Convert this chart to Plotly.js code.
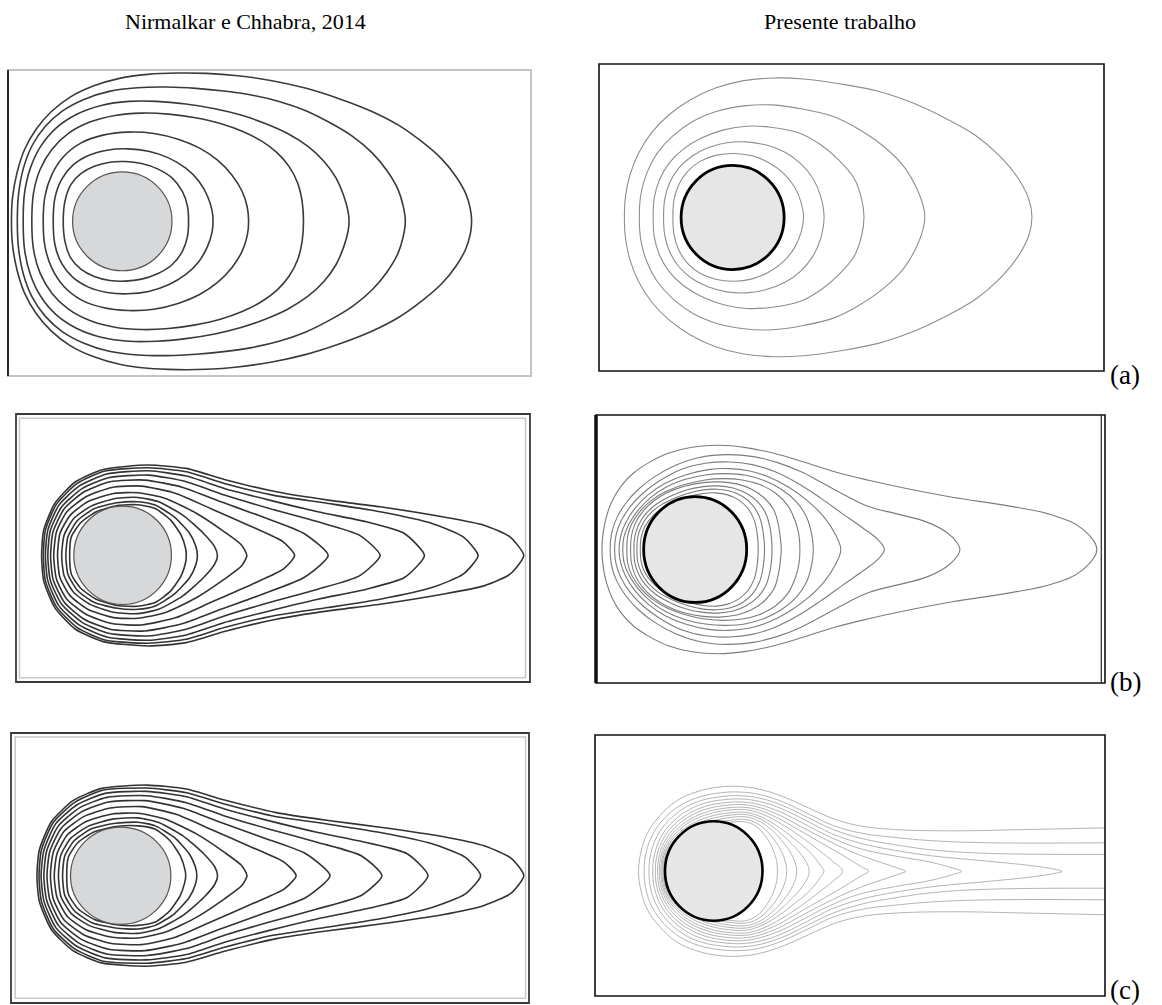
<!DOCTYPE html>
<html>
<head>
<meta charset="utf-8">
<script src="https://cdn.plot.ly/plotly-3.0.1.min.js"></script>
<style>
html,body{margin:0;padding:0;background:#ffffff;}
#chart{width:1162px;height:1005px;}
</style>
</head>
<body>
<div id="chart"></div>
<script>
// ---------------- DATA (figure units; y grows downward) ----------------
const columnTitles = ['Nirmalkar e Chhabra, 2014', 'Presente trabalho'];
const rowLabels = ['(a)', '(b)', '(c)'];

// frames: [left, right, top, bottom] of each panel box
const frameA1 = [25, 1540, 62, 978];
const frameA2 = [52, 1405, 42, 965];
const frameB1 = [48, 1533, 42, 845];
const frameB2 = [42, 1410, 45, 850];
const frameC1 = [33, 1530, 38, 852];
const frameC2 = [40, 1410, 45, 832];

// inner (double) frame lines
const innerB1 = [58, 1520, 55, 832];
const innerC1 = [45, 1520, 50, 838];
const innerRightB2 = 1400;

// cylinders: [left, right, top, bottom]
const cylA1 = [212, 500, 367, 663];
const cylA2 = [272, 548, 347, 660];
const cylB1 = [215, 497, 318, 613];
const cylB2 = [170, 447, 290, 608];
const cylC1 = [205, 495, 322, 615];
const cylC2 = [228, 490, 305, 605];

// symmetry lines (y of the wake centreline)
const axisA1 = 515, axisA2 = 503, axisB1 = 466, axisB2 = 449, axisC1 = 468, axisC2 = 456;

// isotherms, upper halves, from the upstream end to the downstream end
const isoA1 = [
  [[185,515],[190,455],[207,405],[236,372],[275,350],[320,338],[365,336],[412,342],[458,358],[500,385],[530,425],[545,470],[548,515]],
  [[156,515],[161,445],[180,390],[213,347],[258,318],[312,302],[372,298],[432,305],[490,325],[540,356],[578,395],[603,440],[616,482],[619,515]],
  [[127,515],[132,440],[152,375],[187,320],[237,280],[300,257],[372,248],[448,252],[520,270],[580,296],[632,332],[674,377],[703,425],[718,472],[722,515]],
  [[94,515],[99,430],[118,360],[152,300],[200,252],[262,218],[335,198],[412,191],[490,194],[568,205],[640,222],[705,246],[760,275],[805,310],[840,352],[864,400],[877,455],[881,515]],
  [[69,515],[73,430],[90,355],[120,290],[165,235],[223,195],[295,168],[375,156],[456,156],[540,164],[624,178],[700,197],[770,222],[835,252],[893,290],[940,335],[975,385],[998,440],[1010,485],[1013,515]],
  [[52,515],[56,430],[70,355],[95,288],[132,232],[182,185],[245,150],[318,126],[400,115],[485,113],[570,117],[650,125],[730,137],[810,156],[886,183],[958,220],[1025,262],[1080,310],[1124,365],[1155,420],[1170,470],[1176,515]],
  [[35,515],[38,445],[51,370],[73,300],[106,240],[150,187],[205,143],[272,110],[348,87],[430,75],[515,71],[600,72],[690,79],[790,94],[886,116],[982,147],[1079,186],[1156,227],[1223,276],[1281,328],[1322,380],[1350,430],[1364,476],[1368,515]]
];

const isoA2 = [
  [[250,503],[253,450],[266,404],[290,364],[324,334],[367,316],[414,311],[462,318],[506,338],[546,370],[576,412],[594,460],[600,503]],
  [[225,503],[228,450],[241,400],[265,356],[300,320],[344,294],[394,279],[446,276],[498,285],[548,306],[591,340],[624,384],[646,440],[655,503]],
  [[197,503],[200,445],[214,390],[240,340],[278,298],[328,264],[386,240],[448,229],[512,232],[590,250],[645,284],[694,330],[735,385],[755,445],[762,503]],
  [[160,503],[164,435],[180,370],[208,310],[250,258],[304,214],[368,184],[440,168],[516,165],[600,178],[680,200],[748,238],[815,290],[870,352],[905,420],[921,470],[925,503]],
  [[120,503],[123,440],[135,375],[158,310],[192,250],[238,196],[296,150],[364,114],[440,92],[520,84],[600,87],[700,102],[800,124],[890,158],[975,202],[1060,256],[1125,318],[1174,384],[1204,450],[1212,503]]
];

const isoB1 = [
  [[122,466],[128,390],[160,310],[220,245],[300,208],[430,195],[540,205],[650,238],[800,275],[950,300],[1100,320],[1280,350],[1400,375],[1475,410],[1515,466]],
  [[127,466],[133,390],[165,312],[225,250],[305,213],[430,203],[540,215],[650,250],[790,285],[950,310],[1100,335],[1250,370],[1340,410],[1383,466]],
  [[133,466],[140,390],[172,315],[230,258],[310,222],[430,212],[540,228],[650,265],[780,300],[920,335],[1060,365],[1170,400],[1228,466]],
  [[140,466],[147,392],[180,320],[240,265],[315,233],[430,225],[540,245],[650,285],[780,325],[920,365],[1040,405],[1100,466]],
  [[148,466],[155,395],[188,325],[245,275],[320,245],[420,240],[530,262],[640,305],[760,350],[880,400],[950,466]],
  [[157,466],[165,395],[195,335],[250,290],[325,262],[410,258],[510,280],[610,325],[730,380],[820,425],[853,466]],
  [[168,466],[175,400],[205,345],[255,305],[330,280],[400,278],[480,295],[570,340],[650,395],[700,435],[715,466]],
  [[180,466],[187,405],[215,355],[265,318],[335,295],[400,292],[460,305],[530,345],[590,400],[622,440],[630,466]],
  [[192,466],[198,410],[225,362],[275,325],[340,308],[400,305],[450,315],[505,350],[550,400],[568,440],[572,466]],
  [[203,466],[208,410],[235,368],[280,335],[340,316],[400,314],[450,325],[495,360],[525,405],[538,445],[540,466]]
];

const isoB2 = [
  [[58,449],[61,400],[70,350],[86,302],[110,258],[142,220],[184,188],[236,160],[300,142],[370,136],[445,143],[520,160],[600,186],[686,216],[775,241],[860,262],[1000,292],[1150,318],[1270,346],[1350,388],[1388,449]],
  [[80,449],[84,400],[98,354],[122,310],[156,268],[200,230],[256,196],[322,172],[395,164],[465,170],[530,188],[592,215],[652,250],[713,287],[775,320],[850,342],[930,366],[985,398],[1012,428],[1020,449]],
  [[92,449],[96,405],[110,362],[134,320],[168,280],[214,242],[272,208],[336,190],[400,186],[462,194],[522,215],[584,250],[645,294],[705,342],[760,385],[800,420],[817,449]],
  [[104,449],[108,410],[121,370],[146,326],[182,285],[228,250],[282,225],[344,209],[400,206],[455,213],[508,232],[560,262],[610,302],[655,352],[686,405],[700,449]],
  [[114,449],[117,412],[130,374],[154,333],[188,294],[230,262],[280,239],[336,225],[391,221],[445,226],[494,242],[540,268],[580,305],[608,352],[622,405],[626,449]],
  [[125,449],[127,410],[138,372],[160,335],[190,302],[230,275],[280,254],[335,240],[385,236],[435,240],[482,254],[525,280],[558,318],[578,365],[588,410],[590,449]],
  [[135,449],[137,410],[147,372],[167,336],[196,304],[234,278],[282,258],[330,248],[375,246],[420,252],[460,268],[495,295],[520,330],[533,380],[538,420],[540,449]],
  [[144,449],[146,412],[156,376],[175,343],[203,314],[240,290],[285,270],[330,260],[370,258],[410,264],[446,280],[476,305],[498,340],[510,385],[514,420],[515,449]],
  [[152,449],[154,413],[164,379],[182,348],[209,321],[245,299],[288,281],[330,270],[368,268],[404,274],[436,290],[462,315],[481,350],[491,395],[495,449]],
  [[161,449],[163,415],[172,383],[190,354],[215,329],[249,308],[290,291],[330,281],[364,279],[396,285],[425,300],[450,325],[467,360],[475,400],[478,449]]
];

const isoC1 = [
  [[108,468],[115,390],[150,305],[212,242],[295,205],[425,195],[540,207],[650,240],[800,278],[950,302],[1100,322],[1280,350],[1400,378],[1478,415],[1515,468]],
  [[114,468],[121,390],[155,308],[217,247],[300,210],[425,204],[540,218],[650,252],[790,288],[950,313],[1100,338],[1250,372],[1345,412],[1390,468]],
  [[120,468],[128,392],[162,312],[223,255],[305,220],[425,214],[540,230],[650,267],[780,303],[920,338],[1060,368],[1178,402],[1238,468]],
  [[128,468],[136,394],[170,318],[232,263],[310,232],[425,227],[540,248],[650,288],[780,328],[920,368],[1045,408],[1105,468]],
  [[137,468],[145,396],[178,325],[238,275],[315,246],[420,242],[530,265],[640,308],[760,353],[885,402],[955,468]],
  [[147,468],[155,398],[186,335],[243,290],[320,264],[410,260],[510,283],[610,328],[730,383],[823,428],[857,468]],
  [[158,468],[166,402],[196,345],[250,305],[325,282],[400,280],[480,298],[570,343],[650,398],[700,438],[715,468]],
  [[170,468],[177,406],[206,355],[258,318],[330,297],[400,294],[460,308],[530,348],[590,402],[622,442],[630,468]],
  [[182,468],[188,410],[216,362],[267,326],[335,310],[400,307],[450,318],[505,353],[548,402],[566,442],[570,468]],
  [[194,468],[199,412],[226,369],[274,336],[337,320],[400,318],[450,328],[492,362],[522,408],[535,447],[538,468]]
];

const isoC2 = [
  [[157,456],[163,400],[181,340],[213,290],[257,245],[311,217],[373,202],[427,200],[480,208],[543,230],[614,265],[686,300],[757,320],[847,330],[1000,334],[1200,330],[1410,325]],
  [[172,456],[177,400],[195,345],[225,298],[268,258],[320,232],[380,219],[430,217],[485,225],[545,247],[612,282],[680,318],[760,342],[847,354],[950,364],[1100,370],[1410,370]],
  [[185,456],[190,402],[207,350],[236,305],[277,267],[327,242],[385,230],[432,228],[485,236],[545,258],[610,293],[680,330],[760,358],[847,376],[950,392],[1100,402],[1410,405]],
  [[195,456],[200,404],[216,355],[244,312],[284,276],[333,251],[388,240],[434,238],[485,246],[543,268],[607,303],[675,342],[755,372],[847,393],[950,410],[1100,426],[1220,440],[1280,451],[1295,456]],
  [[202,456],[207,405],[223,359],[250,318],[289,284],[337,260],[390,249],[436,247],[484,256],[540,278],[602,313],[670,352],[750,387],[847,410],[940,428],[1000,446],[1025,456]],
  [[208,456],[213,406],[229,362],[255,324],[293,291],[340,268],[392,257],[438,255],[483,264],[536,287],[596,323],[663,362],[740,402],[810,430],[860,449],[875,456]],
  [[213,456],[218,407],[234,365],[260,329],[297,298],[343,276],[394,265],[440,263],[482,272],[532,296],[590,333],[655,375],[715,414],[755,442],[775,456]],
  [[217,456],[222,408],[238,368],[264,334],[300,304],[346,283],[396,272],[442,270],[481,280],[528,305],[582,343],[635,387],[680,427],[705,456]],
  [[220,456],[225,409],[241,371],[267,339],[303,311],[348,291],[398,280],[444,278],[480,289],[523,315],[572,355],[617,398],[645,437],[655,456]],
  [[223,456],[228,410],[244,373],[270,343],[306,317],[350,298],[400,287],[446,285],[480,296],[518,322],[560,364],[595,407],[613,441],[615,456]],
  [[225,456],[230,411],[246,375],[272,346],[308,322],[352,305],[402,294],[446,292],[478,303],[513,330],[548,372],[572,414],[582,456]],
  [[226,456],[231,412],[248,377],[274,349],[310,327],[354,311],[404,302],[446,300],[476,312],[506,340],[534,382],[550,422],[555,456]],
  [[228,456],[233,413],[250,379],[276,352],[312,331],[356,316],[404,308],[444,307],[472,320],[498,350],[518,390],[528,426],[530,456]]
];

// ---------------- LAYOUT / STYLE ----------------
const W = 1162, H = 1005;
const panels = [
  {iso: isoA1, axis: axisA1, cyl: cylA1, frame: frameA1, box: [8, 531, 70, 376], lc: '#3a3a3a', lw: 1.6, sm: 1.0, cylFill: '#d7d8da', cylLine: '#555555', cylW: 1.2, style: 'A1'},
  {iso: isoA2, axis: axisA2, cyl: cylA2, frame: frameA2, box: [599, 1104, 64, 371], lc: '#8e8e8e', lw: 1.1, sm: 1.0, cylFill: '#e6e6e6', cylLine: '#000000', cylW: 2.8, style: 'A2'},
  {iso: isoB1, axis: axisB1, cyl: cylB1, frame: frameB1, box: [16, 530, 414, 682], lc: '#333333', lw: 1.6, sm: 0.6, cylFill: '#d7d8da', cylLine: '#555555', cylW: 1.2, style: 'B1'},
  {iso: isoB2, axis: axisB2, cyl: cylB2, frame: frameB2, box: [596, 1105, 415, 683], lc: '#7c7c7c', lw: 1.1, sm: 1.1, cylFill: '#e6e6e6', cylLine: '#000000', cylW: 2.8, style: 'B2'},
  {iso: isoC1, axis: axisC1, cyl: cylC1, frame: frameC1, box: [11, 529, 733, 1003], lc: '#333333', lw: 1.6, sm: 0.6, cylFill: '#d7d8da', cylLine: '#555555', cylW: 1.2, style: 'C1'},
  {iso: isoC2, axis: axisC2, cyl: cylC2, frame: frameC2, box: [595, 1105, 735, 996], lc: '#ababab', lw: 0.9, sm: 1.1, cylFill: '#e6e6e6', cylLine: '#000000', cylW: 2.6, style: 'C2'}
];

function closeCurve(half, c) {
  const up = half.slice().reverse();
  const down = half.slice(1).map(p => [p[0], 2 * c - p[1]]);
  const pts = up.concat(down);
  return {x: pts.map(p => p[0]), y: pts.map(p => p[1])};
}

const traces = [];
const shapes = [];
const layout = {
  width: W, height: H,
  margin: {l: 0, r: 0, t: 0, b: 0, pad: 0},
  paper_bgcolor: '#ffffff', plot_bgcolor: 'rgba(0,0,0,0)',
  showlegend: false,
  hovermode: false,
  annotations: []
};

panels.forEach((p, i) => {
  const n = i + 1;
  const xa = n === 1 ? 'x' : 'x' + n;
  const ya = n === 1 ? 'y' : 'y' + n;
  const xk = n === 1 ? 'xaxis' : 'xaxis' + n;
  const yk = n === 1 ? 'yaxis' : 'yaxis' + n;
  layout[xk] = {domain: [p.box[0] / W, p.box[1] / W], range: [p.frame[0], p.frame[1]], visible: false, fixedrange: true};
  layout[yk] = {domain: [1 - p.box[3] / H, 1 - p.box[2] / H], range: [p.frame[3], p.frame[2]], visible: false, fixedrange: true};

  p.iso.forEach(half => {
    const c = closeCurve(half, p.axis);
    traces.push({type: 'scatter', mode: 'lines', x: c.x, y: c.y, xaxis: xa, yaxis: ya,
      line: {color: p.lc, width: p.lw, shape: 'spline', smoothing: p.sm}, hoverinfo: 'skip', cliponaxis: true});
  });

  shapes.push({type: 'circle', xref: xa, yref: ya, x0: p.cyl[0], x1: p.cyl[1], y0: p.cyl[2], y1: p.cyl[3],
    fillcolor: p.cylFill, line: {color: p.cylLine, width: p.cylW}, layer: 'above'});

  const dx = xa + ' domain', dy = ya + ' domain';
  if (p.style === 'A1') {
    shapes.push({type: 'rect', xref: dx, yref: dy, x0: 0, x1: 1, y0: 0, y1: 1, line: {color: '#c4c4c4', width: 2}});
    shapes.push({type: 'line', xref: dx, yref: dy, x0: 0, x1: 0, y0: 0, y1: 1, line: {color: '#2a2a2a', width: 2}});
  } else if (p.style === 'A2' || p.style === 'C2') {
    shapes.push({type: 'rect', xref: dx, yref: dy, x0: 0, x1: 1, y0: 0, y1: 1, line: {color: '#111111', width: 1.6}});
  } else if (p.style === 'B1' || p.style === 'C1') {
    const inner = p.style === 'B1' ? innerB1 : innerC1;
    shapes.push({type: 'rect', xref: dx, yref: dy, x0: 0, x1: 1, y0: 0, y1: 1, line: {color: '#3a3a3a', width: 1.8}});
    shapes.push({type: 'rect', xref: xa, yref: ya, x0: inner[0], x1: inner[1], y0: inner[3], y1: inner[2], line: {color: '#c8c8c8', width: 1.5}});
  } else if (p.style === 'B2') {
    shapes.push({type: 'rect', xref: dx, yref: dy, x0: 0, x1: 1, y0: 0, y1: 1, line: {color: '#111111', width: 1.6}});
    shapes.push({type: 'line', xref: dx, yref: dy, x0: 0, x1: 0, y0: 0, y1: 1, line: {color: '#111111', width: 3.5}});
    shapes.push({type: 'line', xref: xa, yref: dy, x0: innerRightB2, x1: innerRightB2, y0: 0, y1: 1, line: {color: '#222222', width: 1.2}});
  }
});

layout.shapes = shapes;

const serif = 'Liberation Serif, Times New Roman, serif';
layout.annotations.push({xref: 'paper', yref: 'paper', x: 245 / W, y: 1 - 22 / H, text: columnTitles[0],
  showarrow: false, xanchor: 'center', yanchor: 'middle', font: {family: serif, size: 22, color: '#000'}});
layout.annotations.push({xref: 'paper', yref: 'paper', x: 840 / W, y: 1 - 22 / H, text: columnTitles[1],
  showarrow: false, xanchor: 'center', yanchor: 'middle', font: {family: serif, size: 22, color: '#000'}});
const labelY = [375, 682, 990];
rowLabels.forEach((t, i) => {
  layout.annotations.push({xref: 'paper', yref: 'paper', x: 1108 / W, y: 1 - labelY[i] / H, text: t,
    showarrow: false, xanchor: 'left', yanchor: 'middle', font: {family: serif, size: 27, color: '#000'}});
});

Plotly.newPlot('chart', traces, layout, {staticPlot: true, displayModeBar: false});
</script>
</body>
</html>
